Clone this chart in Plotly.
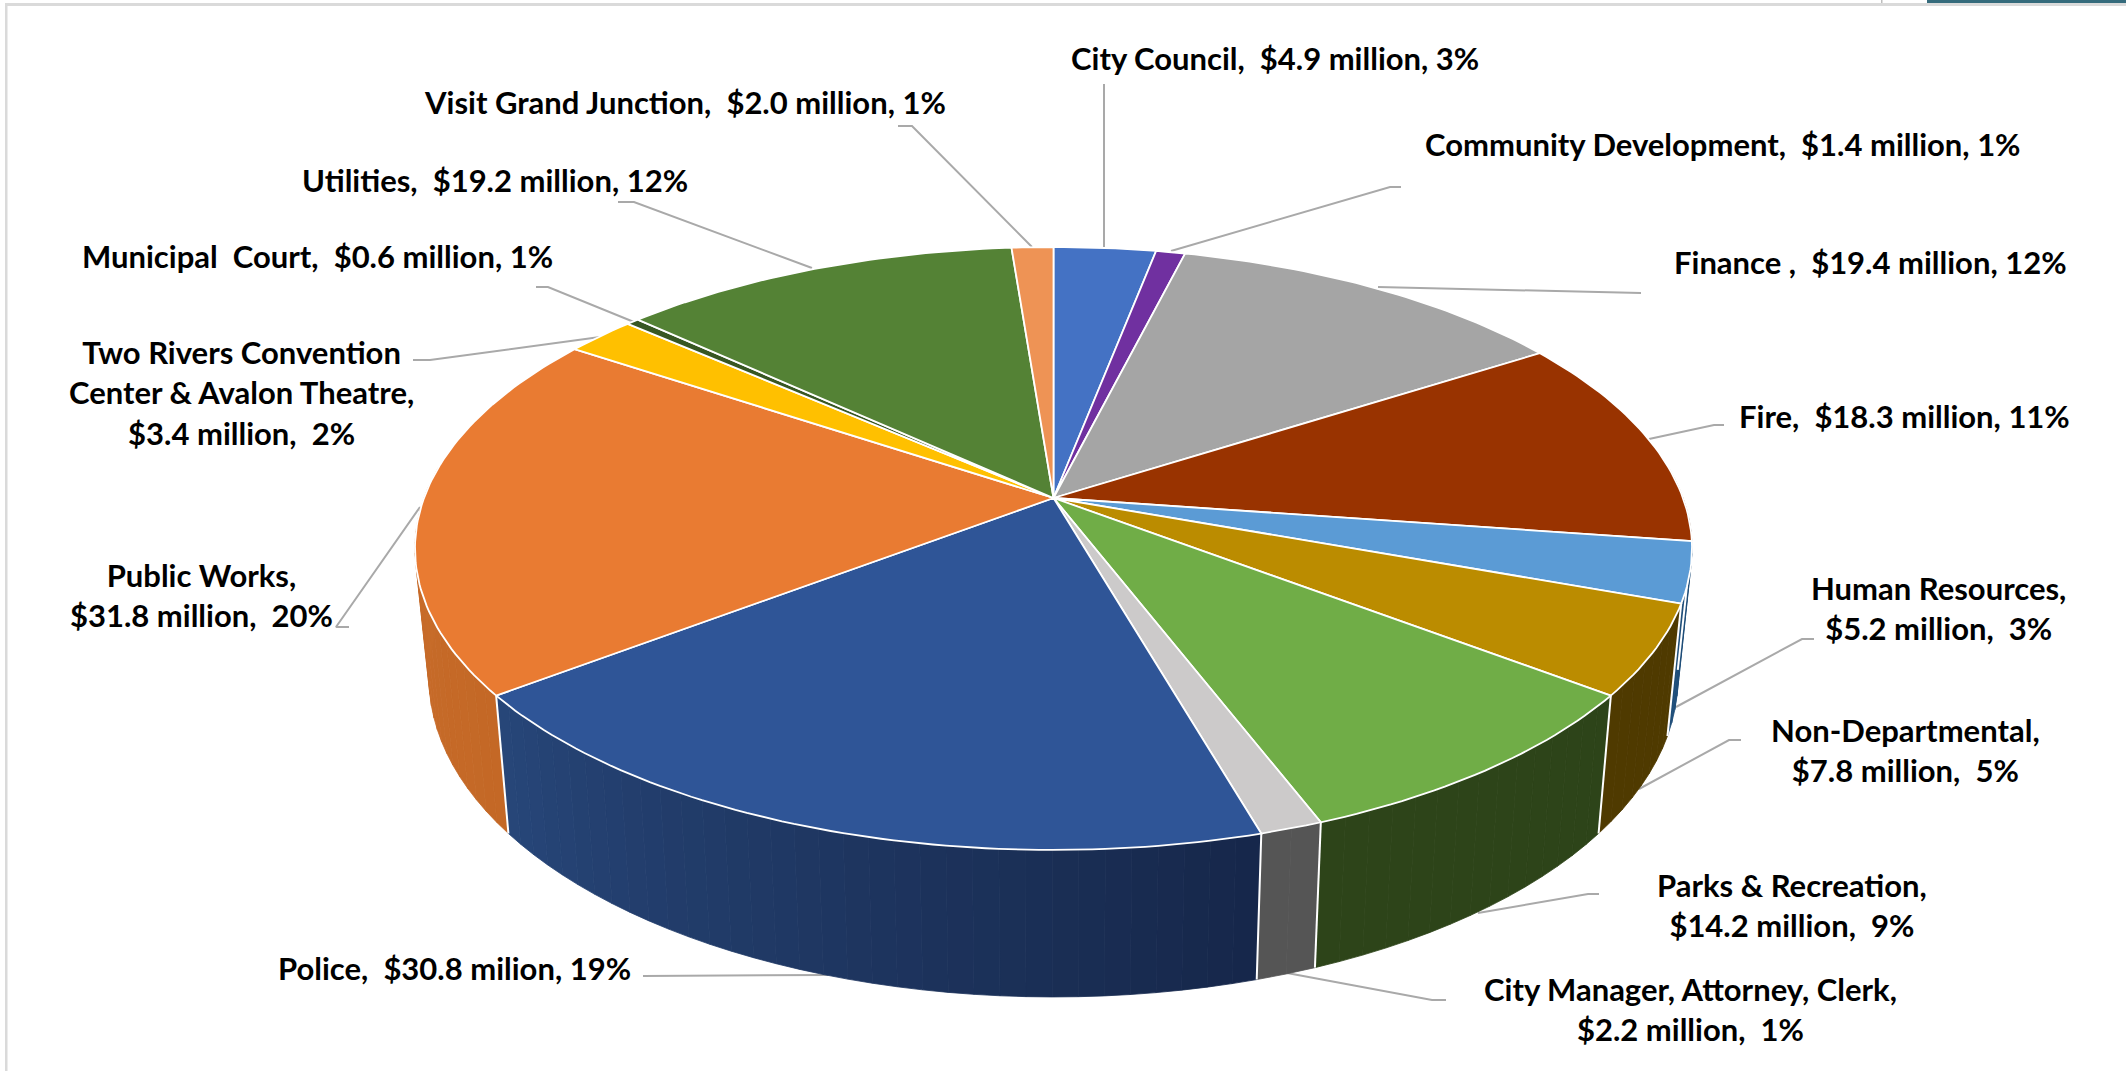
import numpy as np
import plotly.graph_objects as go

# ---------- data ----------
departments = ["City Council", "Community Development", "Finance", "Fire", "Human Resources",
               "Non-Departmental", "Parks & Recreation", "City Manager, Attorney, Clerk", "Police",
               "Public Works", "Two Rivers Convention Center & Avalon Theatre", "Municipal Court",
               "Utilities", "Visit Grand Junction"]
values = [4.9, 1.4, 19.4, 18.3, 5.2, 7.8, 14.2, 2.2, 30.8, 31.8, 3.4, 0.6, 19.2, 2.0]
label_texts = [
    "City Council,\u00a0 $4.9 million, 3%",
    "Community Development,\u00a0 $1.4 million, 1%",
    "Finance ,\u00a0 $19.4 million, 12%",
    "Fire,\u00a0 $18.3 million, 11%",
    "Human Resources,<br>$5.2 million,\u00a0 3%",
    "Non-Departmental,<br>$7.8 million,\u00a0 5%",
    "Parks & Recreation,<br>$14.2 million,\u00a0 9%",
    "City Manager, Attorney, Clerk,<br>$2.2 million,\u00a0 1%",
    "Police,\u00a0 $30.8 milion, 19%",
    "Public Works,<br>$31.8 million,\u00a0 20%",
    "Two Rivers Convention<br>Center & Avalon Theatre,<br>$3.4 million,\u00a0 2%",
    "Municipal\u00a0 Court,\u00a0 $0.6 million, 1%",
    "Utilities,\u00a0 $19.2 million, 12%",
    "Visit Grand Junction,\u00a0 $2.0 million, 1%",
]

# ---------- styles ----------
top_colors = ["#4472C4", "#7030A0", "#A5A5A5", "#993300", "#5B9BD5", "#BB8C00", "#70AD47",
              "#CCCACA", "#2F5597", "#E97B32", "#FFC000", "#385723", "#548235", "#EE9355"]
side_left = ["#223962", "#381850", "#525252", "#4C1900", "#1F4E79", "#4F3A00", "#2D4419",
             "#555555", "#274679", "#C86D2B", "#7F6000", "#1C2B11", "#2A411A", "#77492A"]
side_right = ["#223962", "#381850", "#525252", "#4C1900", "#1F4E79", "#4F3A00", "#2D4419",
              "#555555", "#16274A", "#C46826", "#7F6000", "#1C2B11", "#2A411A", "#77492A"]

label_pos = [(1275, 58), (1723, 144), (1870, 262), (1904, 416), (1938, 608), (1905, 750),
             (1792, 905), (1690, 1009), (454, 968), (201, 595), (241, 392), (317, 256),
             (495, 180), (685, 102)]
leaders = [
    [(1104, 84), (1104, 248)],
    [(1401, 187), (1390, 187), (1171, 251)],
    [(1641, 293), (1378, 287)],
    [(1724, 425), (1714, 425), (1649, 439)],
    [(1814, 639), (1802, 639), (1676, 707)],
    [(1741, 740), (1729, 740), (1639, 789)],
    [(1599, 894), (1588, 894), (1478, 913)],
    [(1446, 1000), (1432, 1000), (1287, 973)],
    [(643, 976), (828, 975)],
    [(349, 627), (336, 627), (420, 507)],
    [(413, 360), (430, 360), (600, 337)],
    [(536, 287), (548, 287), (634, 322)],
    [(618, 202), (634, 202), (812, 268)],
    [(898, 126), (912, 126), (1032, 247)],
]

# ---------- projection of the pie disc ----------
CX, CY, R, S, A = 1053.5, 498.0, 629.5, 293.0, 0.1675
BOTTOM_SCALE = 0.978


def top_xy(theta):
    u, v = np.sin(theta), np.cos(theta)
    w = 1 + A * v
    return CX + R * u / w, CY - S * v / w


def bottom_xy(theta):
    x, y = top_xy(theta)
    return CX + BOTTOM_SCALE * (x - CX), y + 138 + 0.0588 * (y - 697)


def rgb(h):
    return np.array([int(h[i:i + 2], 16) for i in (1, 3, 5)], float)


def mix(a, b, t):
    c = rgb(a) * (1 - t) + rgb(b) * t
    return "rgb(%d,%d,%d)" % tuple(c.round())


fig = go.Figure()
common = dict(hoverinfo="skip", showlegend=False)

# leader lines, under the pie
for pts in leaders:
    fig.add_trace(go.Scatter(x=[p[0] for p in pts], y=[p[1] for p in pts], mode="lines",
                             line=dict(color="#A9A9A9", width=2), **common))

total = sum(values)
edges = np.concatenate([[0], np.cumsum(values)]) / total * 2 * np.pi
VIS_LO, VIS_HI = np.radians(84), np.radians(276)

# side walls: drawn from the outer ends toward the front
order = sorted(range(len(values)), key=lambda i: -abs((edges[i] + edges[i + 1]) / 2 - np.pi))
for i in order:
    a0, a1 = max(edges[i], VIS_LO), min(edges[i + 1], VIS_HI)
    if a1 <= a0:
        continue
    n = max(2, int(np.degrees(a1 - a0) / 2))
    t = np.linspace(a0, a1, n + 1)
    for k in range(n):
        col = mix(side_left[i], side_right[i], 1 - (k + .5) / n)
        tt = np.linspace(t[k], t[k + 1], 3)
        xt, yt = top_xy(tt)
        xb, yb = bottom_xy(tt[::-1])
        fig.add_trace(go.Scatter(x=np.r_[xt, xb, xt[0]], y=np.r_[yt, yb, yt[0]], mode="lines",
                                 fill="toself", fillcolor=col, line=dict(color=col, width=0.8), **common))

# white vertical edges between the wall segments
for e in edges:
    if VIS_LO < e < VIS_HI:
        xt, yt = top_xy(e)
        xb, yb = bottom_xy(e)
        fig.add_trace(go.Scatter(x=[xt, xb], y=[yt, yb], mode="lines",
                                 line=dict(color="white", width=2), **common))

# top faces
for i in range(len(values)):
    n = max(3, int(np.degrees(edges[i + 1] - edges[i])))
    t = np.linspace(edges[i], edges[i + 1], n + 1)
    xs, ys = top_xy(t)
    fig.add_trace(go.Scatter(x=np.r_[CX, xs, CX], y=np.r_[CY, ys, CY], mode="lines", fill="toself",
                             fillcolor=top_colors[i], line=dict(color="white", width=1.8),
                             name=departments[i], **common))

annotations = [dict(x=p[0], y=p[1], xref="x", yref="y", text=s, showarrow=False,
                    xanchor="center", yanchor="middle", align="center",
                    font=dict(family="Lato", size=31, color="#000000", weight="bold"))
               for s, p in zip(label_texts, label_pos)]

frame = [
    dict(type="rect", x0=5, x1=7.5, y0=3, y1=1071, fillcolor="#DADADA", line_width=0, layer="below"),
    dict(type="rect", x0=5, x1=2126, y0=3, y1=6, fillcolor="#DADADA", line_width=0, layer="below"),
    dict(type="rect", x0=1927, x1=2126, y0=0, y1=3, fillcolor="#356B7C", line_width=0, layer="below"),
    dict(type="rect", x0=1881, x1=1882.5, y0=0, y1=3, fillcolor="#BDBDBD", line_width=0, layer="below"),
]

fig.update_layout(
    width=2126, height=1071, margin=dict(l=0, r=0, t=0, b=0),
    paper_bgcolor="white", plot_bgcolor="white", showlegend=False,
    xaxis=dict(range=[0, 2126], visible=False, fixedrange=True),
    yaxis=dict(range=[1071, 0], visible=False, fixedrange=True),
    annotations=annotations, shapes=frame,
)
fig.write_html("out.html", config={"displayModeBar": False},
               post_script="document.body.style.margin='0';document.documentElement.style.overflow='hidden';")
